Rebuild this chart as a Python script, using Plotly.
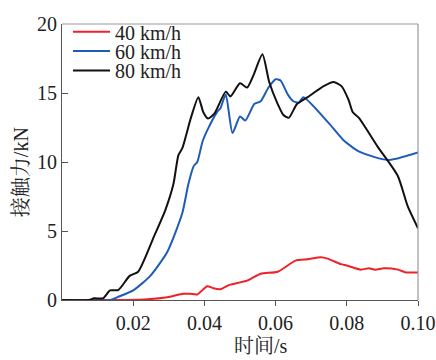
import plotly.graph_objects as go

# 40 km/h
t40 = [0, 0.018, 0.024, 0.0296, 0.034, 0.036, 0.038, 0.0408, 0.0425, 0.0445, 0.047, 0.052,
       0.0558, 0.0606, 0.0656, 0.069, 0.0727, 0.0746, 0.0783, 0.080, 0.0839, 0.0862, 0.088,
       0.0904, 0.0944, 0.0966, 0.100]
f40 = [0, 0, 0.05, 0.2, 0.45, 0.45, 0.4, 1.0, 0.85, 0.78, 1.1, 1.4,
       1.9, 2.05, 2.85, 2.95, 3.1, 3.0, 2.6, 2.5, 2.2, 2.3, 2.2,
       2.3, 2.2, 2.0, 2.0]

# 60 km/h
t60 = [0, 0.0135, 0.016, 0.020, 0.0248, 0.0296, 0.0338, 0.0355, 0.037, 0.038, 0.0395, 0.041,
       0.0435, 0.0445, 0.046, 0.0479, 0.050, 0.0515, 0.054, 0.0558, 0.058, 0.060, 0.0614,
       0.0634, 0.065, 0.0665, 0.0678, 0.075, 0.079, 0.0835, 0.0915, 0.100]
f60 = [0, 0, 0.25, 0.7, 1.75, 3.5, 6.3, 8.4, 9.7, 10.0, 11.5, 12.4,
       13.6, 13.9, 14.9, 12.1, 13.3, 13.0, 14.2, 14.4, 15.4, 16.0, 15.9,
       14.9, 14.4, 14.3, 14.7, 12.8, 11.6, 10.75, 10.15, 10.7]

# 80 km/h
t80 = [0, 0.0075, 0.009, 0.0115, 0.0135, 0.0158, 0.019, 0.0214, 0.026, 0.029, 0.0313, 0.0327,
       0.0338, 0.0362, 0.0383, 0.0397, 0.041, 0.0428, 0.046, 0.0473, 0.050, 0.052, 0.0538,
       0.0563, 0.0582, 0.0606, 0.0622, 0.0637, 0.066, 0.069, 0.0735, 0.0763, 0.0785, 0.0805,
       0.0817, 0.0834, 0.0887, 0.0943, 0.0971, 0.100]
f80 = [0, 0, 0.12, 0.12, 0.7, 0.72, 1.75, 2.05, 4.7, 6.5, 8.4, 10.5,
       11.0, 13.2, 14.7, 13.6, 13.15, 13.5, 15.1, 14.75, 15.7, 15.4, 16.3,
       17.8, 15.8, 14.2, 13.4, 13.2, 14.2, 14.7, 15.5, 15.8, 15.5, 14.5,
       13.6, 13.2, 11.1, 9.0, 6.8, 5.2]

names = ["40 km/h", "60 km/h", "80 km/h"]
colors = ["#ee2228", "#1f5bb8", "#111111"]

xtick_vals = [0.02, 0.04, 0.06, 0.08, 0.10]
xtick_text = ["0.02", "0.04", "0.06", "0.08", "0.10"]
ytick_vals = [0, 5, 10, 15, 20]
ytick_text = ["0", "5", "10", "15", "20"]

FONT = "Liberation Serif, Times New Roman, Noto Serif CJK SC, Noto Sans CJK SC, serif"

legend_ids = ["legend", "legend2", "legend3"]
legend_rows = [23, 43, 63]  # pixel centres of legend rows

fig = go.Figure()
for t, f, n, c, lg in zip([t40, t60, t80], [f40, f60, f80], names, colors, legend_ids):
    fig.add_trace(go.Scatter(x=t, y=f, mode="lines", name=n, legend=lg,
                             line=dict(color=c, width=2, shape="spline", smoothing=0.6)))

legend_style = {}
for lg, row in zip(legend_ids, legend_rows):
    legend_style[lg] = dict(x=6 / 356, y=(300 - row) / 285, xanchor="left", yanchor="middle",
                            bgcolor="rgba(0,0,0,0)", font=dict(size=20, family=FONT),
                            itemwidth=37, borderwidth=0)

fig.update_layout(
    width=436, height=360,
    margin=dict(l=62, r=18, t=15, b=60),
    plot_bgcolor="white", paper_bgcolor="white",
    font=dict(family=FONT, size=20, color="#222"),
    showlegend=True,
    **legend_style,
    xaxis=dict(range=[0, 0.10], tickvals=xtick_vals, ticktext=xtick_text, automargin=False,
               ticks="outside", ticklen=5, tickcolor="#555", showgrid=False, zeroline=False,
               showline=True, linecolor="#555", linewidth=1.2,
               tickfont=dict(size=20, family=FONT)),
    yaxis=dict(range=[0, 20], tickvals=ytick_vals, ticktext=ytick_text, automargin=False,
               ticks="inside", ticklen=6, tickcolor="#555", showgrid=False, zeroline=False,
               showline=True, linecolor="#555", linewidth=1.2,
               tickfont=dict(size=20, family=FONT)),
    shapes=[
        dict(type="line", xref="paper", yref="paper", x0=0, x1=1, y0=1, y1=1,
             line=dict(color="#999", width=1.2)),
        dict(type="line", xref="paper", yref="paper", x0=1, x1=1, y0=0, y1=1,
             line=dict(color="#999", width=1.2)),
    ],
    annotations=[
        dict(text="时间/s", xref="paper", yref="paper", x=(261 - 62) / 356, y=-47 / 285,
             xanchor="center", yanchor="middle", showarrow=False,
             font=dict(size=20, family=FONT)),
        dict(text="接触力/kN", xref="paper", yref="paper", x=-41 / 356, y=(300 - 168) / 285,
             xanchor="center", yanchor="middle", textangle=-90, showarrow=False,
             font=dict(size=20, family=FONT)),
    ],
)

fig.write_html("out.html", config={"responsive": False, "displayModeBar": False},
               post_script="document.body.style.margin='0';document.body.style.overflow='hidden';")
